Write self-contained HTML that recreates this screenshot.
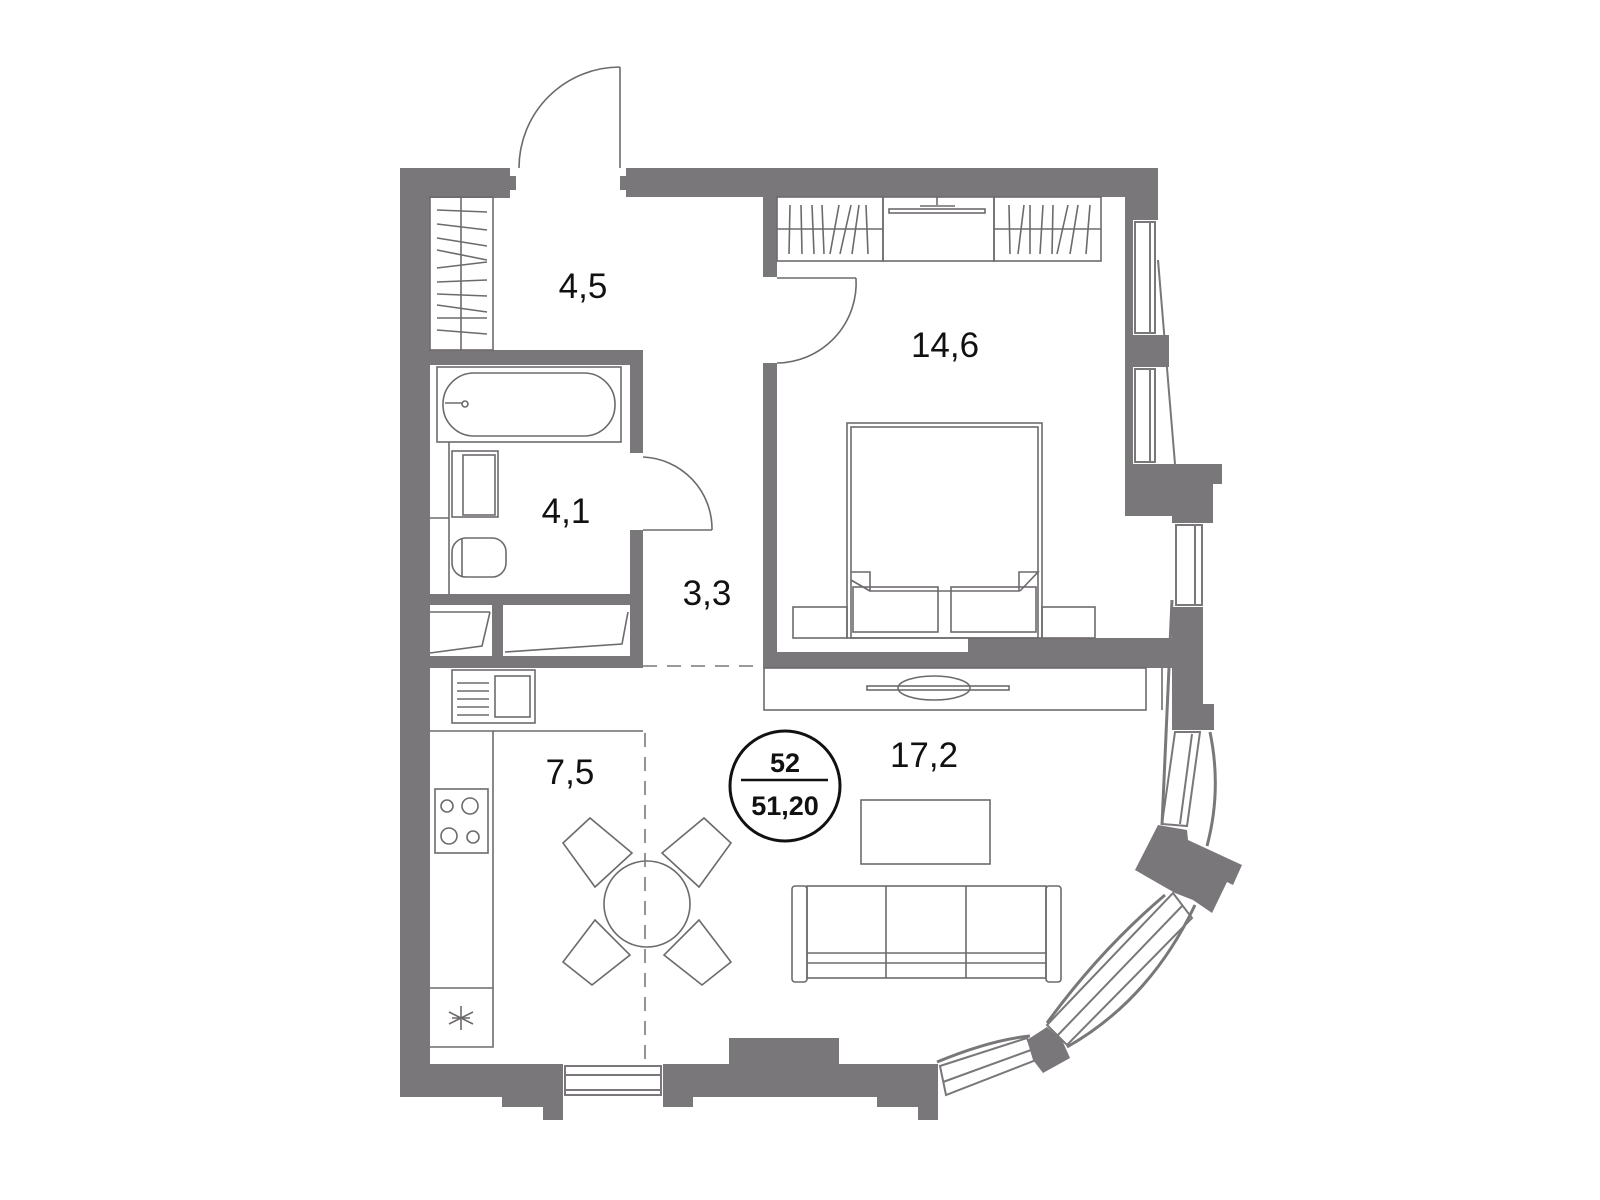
<!DOCTYPE html>
<html><head><meta charset="utf-8"><style>
html,body{margin:0;padding:0;background:#fff;}
svg{display:block}
text{font-family:"Liberation Sans",sans-serif;fill:#111;}
</style></head><body>
<svg width="1600" height="1200" viewBox="0 0 1600 1200" xmlns="http://www.w3.org/2000/svg">
<g fill="#7a777a" stroke="none">
<rect x="400" y="168" width="110" height="30"/>
<rect x="626" y="168" width="532" height="29"/>
<rect x="510" y="176" width="6" height="14"/>
<rect x="620" y="176" width="6" height="14"/>
<rect x="400" y="168" width="30" height="929"/>
<rect x="400" y="1064" width="163" height="33"/>
<rect x="663" y="1064" width="275" height="33"/>
<rect x="502" y="1097" width="61" height="10"/>
<rect x="543" y="1097" width="20" height="23"/>
<rect x="663" y="1097" width="30" height="10"/>
<rect x="729" y="1038" width="110" height="26"/>
<rect x="877" y="1097" width="61" height="10"/>
<rect x="918" y="1097" width="20" height="23"/>
<rect x="430" y="350" width="213" height="15"/>
<rect x="630" y="350" width="13" height="103"/>
<rect x="630" y="530" width="13" height="138"/>
<rect x="430" y="594" width="213" height="11"/>
<rect x="492" y="605" width="11" height="51"/>
<rect x="430" y="656" width="213" height="12"/>
<rect x="763" y="197" width="14" height="80"/>
<rect x="763" y="363" width="14" height="305"/>
<rect x="763" y="652" width="409" height="16"/>
<rect x="968" y="638" width="204" height="16"/>
<rect x="1125" y="168" width="33" height="52"/>
<rect x="1125" y="220" width="8" height="244"/>
<rect x="1125" y="335" width="44" height="32"/>
<polygon points="1125,464 1222,464 1222,484 1213,484 1213,523 1172,523 1172,516 1125,516"/>
<polygon points="1172,607 1203,607 1203,704 1214,704 1214,730 1172,730"/>
<rect x="1160" y="638" width="14" height="30"/>
<polygon points="1135,870 1158,825 1187,830 1188,840 1242,865 1233,885 1227,882 1212,913 1193,900 1175,893"/>
<polygon points="1027,1040 1047,1027 1062,1040 1070,1058 1043,1073 1033,1060"/>
</g>
<g fill="none" stroke="#7a777a" stroke-width="2">
<rect x="1135" y="222" width="20" height="111"/>
<rect x="1135" y="369" width="20" height="93"/>
<line x1="1150" y1="222" x2="1150" y2="333"/><line x1="1150" y1="369" x2="1150" y2="462"/>
<line x1="1158" y1="260" x2="1175" y2="464"/>
<rect x="1176" y="525" width="26" height="80"/>
<line x1="1195" y1="525" x2="1195" y2="605"/>
<line x1="1172" y1="600" x2="1162" y2="825" stroke-width="3"/>
<polygon points="1175,732 1200,732 1187,826 1162,824"/>
<line x1="1192" y1="734" x2="1180" y2="824"/>
<path d="M1210,732 Q1222,790 1207,846" stroke-width="3"/>
<polygon points="1173,893 1192,918 1067,1045 1047,1025"/>
<line x1="1183" y1="905" x2="1058" y2="1035"/>
<path d="M1165,895 Q1100,950 1047,1023" stroke-width="3"/>
<path d="M1195,905 Q1150,1000 1067,1047" stroke-width="3"/>
<polygon points="940,1066 1027,1038 1036,1060 946,1095"/>
<line x1="943" y1="1082" x2="1031" y2="1050"/>
<path d="M937,1062 Q990,1040 1030,1036" stroke-width="3"/>
<rect x="565" y="1066" width="96" height="29"/>
<line x1="565" y1="1075" x2="661" y2="1075"/><line x1="565" y1="1090" x2="661" y2="1090"/>
</g>
<g fill="none" stroke="#6d6a6d" stroke-width="1.6">
<line x1="620" y1="67" x2="620" y2="168"/>
<path d="M620,67 A101,101 0 0 0 519,168"/>
<rect x="430" y="197" width="63" height="153"/>
<line x1="461" y1="197" x2="461" y2="350"/>
<path d="M437,210 L487,212 M437,224 L487,230 M437,238 L487,246 M437,250 L487,260 M437,268 L487,262 M437,282 L487,280 M437,294 L487,296 M437,305 L487,312 M437,318 L487,318 M437,330 L487,334"/>
<line x1="643" y1="530" x2="712" y2="530"/>
<path d="M643,457 A72,72 0 0 1 712,530"/>
<rect x="437" y="367" width="184" height="75"/>
<rect x="443" y="373" width="172" height="63" rx="31"/>
<line x1="445" y1="403" x2="462" y2="403"/><circle cx="465" cy="404" r="3"/>
<line x1="449" y1="442" x2="449" y2="594"/>
<line x1="430" y1="518" x2="449" y2="518"/>
<rect x="452" y="451" width="46" height="66"/>
<rect x="463" y="455" width="32" height="60"/>
<rect x="452" y="538" width="54" height="39" rx="14"/>
<line x1="462" y1="538" x2="462" y2="577"/>
<line x1="430" y1="612" x2="490" y2="612"/>
<path d="M430,653 L482,646 L490,612"/>
<path d="M505,652 L622,644 L628,612"/>
<line x1="777" y1="278" x2="856" y2="278"/>
<path d="M856,278 A80,80 0 0 1 777,363"/>
<rect x="777" y="197" width="106" height="64"/>
<rect x="883" y="197" width="111" height="64"/>
<rect x="994" y="197" width="107" height="64"/>
<line x1="777" y1="229" x2="883" y2="229"/><line x1="994" y1="229" x2="1101" y2="229"/>
<path d="M790,205 L789,254 M801,205 L802,254 M812,205 L814,254 M822,205 L824,254 M839,205 L830,254 M851,205 L840,254 M859,205 L852,254 M866,205 L868,254"/>
<path d="M1009,205 L1010,254 M1024,205 L1018,254 M1030,205 L1030,254 M1043,205 L1040,254 M1053,205 L1052,254 M1068,205 L1057,254 M1078,205 L1070,254 M1090,205 L1086,254"/>
<rect x="889" y="209" width="96" height="4"/>
<line x1="937" y1="197" x2="937" y2="205"/><line x1="920" y1="206" x2="955" y2="206"/>
<rect x="847" y="423" width="195" height="215"/>
<rect x="851" y="427" width="187" height="211"/>
<path d="M851,572 L870,572 L870,591 L1019,591 L1019,572 L1038,572 L1020,591"/>
<path d="M851,580 L870,591"/>
<rect x="853" y="587" width="85" height="45"/>
<rect x="951" y="587" width="85" height="45"/>
<rect x="793" y="607" width="54" height="31"/>
<rect x="1042" y="607" width="53" height="31"/>
<rect x="764" y="668" width="382" height="42"/>
<ellipse cx="934" cy="688" rx="36" ry="12"/>
<rect x="867" y="686" width="142" height="4"/>
<polyline points="430,731 493,731 493,1047 430,1047"/>
<line x1="493" y1="731" x2="643" y2="731"/>
<rect x="452" y="670" width="83" height="53"/>
<rect x="495" y="676" width="35" height="41"/>
<path d="M457,683 L489,683 M457,691 L489,691 M457,699 L489,699 M457,707 L489,707 M457,715 L489,715"/>
<rect x="435" y="789" width="53" height="64"/>
<circle cx="447" cy="806" r="6"/><circle cx="470" cy="806" r="8"/>
<circle cx="449" cy="836" r="8"/><circle cx="473" cy="837" r="6"/>
<line x1="430" y1="988" x2="493" y2="988"/>
<path d="M461,1006 L461,1030 M449,1012 L473,1024 M449,1024 L473,1012 M452,1018 L470,1018"/>
<circle cx="647" cy="904" r="43"/>
<polygon points="563,843 590,818 632,853 595,887"/>
<polygon points="731,843 704,818 662,853 699,887"/>
<polygon points="563,962 592,985 630,955 595,920"/>
<polygon points="731,962 702,985 664,955 699,920"/>
<rect x="861" y="800" width="129" height="64"/>
<rect x="792" y="886" width="15" height="96" rx="3"/>
<rect x="1046" y="886" width="15" height="96" rx="3"/>
<rect x="807" y="886" width="239" height="92"/>
<line x1="886" y1="886" x2="886" y2="978"/><line x1="966" y1="886" x2="966" y2="978"/>
<line x1="807" y1="953" x2="1046" y2="953"/><line x1="807" y1="963" x2="1046" y2="963"/>
<line x1="1162" y1="668" x2="1162" y2="710"/>
</g>
<g stroke="#7a777a" stroke-width="1.6" stroke-dasharray="14,10" fill="none">
<line x1="643" y1="666" x2="763" y2="666"/>
<line x1="645" y1="733" x2="645" y2="1064"/>
</g>
<g font-size="35" text-anchor="middle">
<text x="583" y="298">4,5</text>
<text x="945" y="357">14,6</text>
<text x="566" y="523">4,1</text>
<text x="707" y="605">3,3</text>
<text x="570" y="784">7,5</text>
<text x="924" y="767">17,2</text>
</g>
<circle cx="785" cy="786" r="55" fill="none" stroke="#111" stroke-width="3"/>
<line x1="741" y1="780" x2="828" y2="780" stroke="#111" stroke-width="2.5"/>
<text x="785" y="772" font-size="27" font-weight="bold" text-anchor="middle">52</text>
<text x="785" y="815" font-size="27" font-weight="bold" text-anchor="middle">51,20</text>
</svg>
</body></html>
